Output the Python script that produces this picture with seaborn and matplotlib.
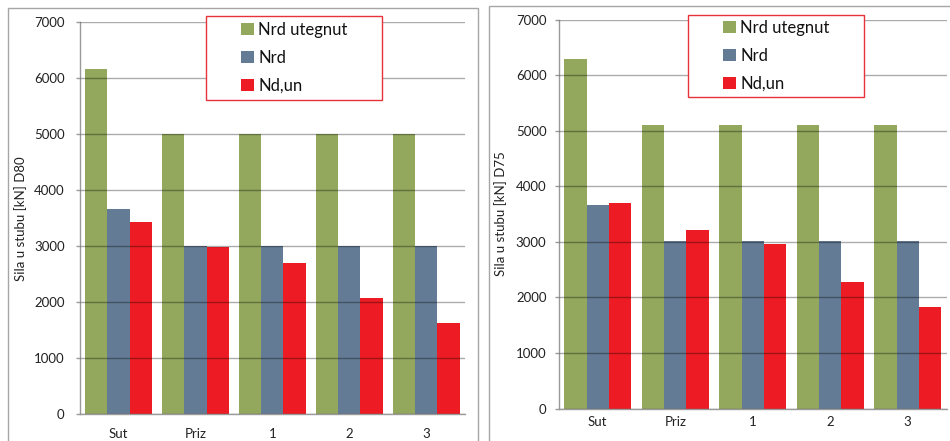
import matplotlib
matplotlib.use("Agg")
import matplotlib.pyplot as plt
import seaborn as sns
import pandas as pd
from matplotlib.patches import Rectangle, Patch

categories = ["Sut", "Priz", "1", "2", "3"]
series_names = ["Nrd utegnut", "Nrd", "Nd,un"]

d80_nrd_utegnut = [6160, 5000, 5000, 5000, 5000]
d80_nrd = [3670, 3000, 3000, 3000, 3000]
d80_nd_un = [3430, 2980, 2705, 2080, 1630]

d75_nrd_utegnut = [6290, 5100, 5100, 5100, 5100]
d75_nrd = [3670, 3010, 3010, 3010, 3010]
d75_nd_un = [3695, 3210, 2965, 2275, 1820]

ylabels = ["Sila u stubu [kN] D80", "Sila u stubu [kN] D75"]
yticks = [0, 1000, 2000, 3000, 4000, 5000, 6000, 7000]

colors = ["#93A75D", "#647B95", "#ED1C24"]


def make_df(a, b, c):
    rows = []
    for name, vals in zip(series_names, [a, b, c]):
        for cat, v in zip(categories, vals):
            rows.append({"cat": cat, "series": name, "value": v})
    return pd.DataFrame(rows)


sns.set_theme(style="white")
plt.rcParams["font.family"] = ["Lato", "DejaVu Sans"]

fig = plt.figure(figsize=(9.5, 4.41), dpi=100)
W, H = 950, 441


def px_ax(x0, x1, y0, y1):
    return fig.add_axes([x0 / W, 1 - y0 / H, (x1 - x0) / W, (y0 - y1) / H])


# panel frames
fig.add_artist(Rectangle((8 / W, -0.1), (478 - 8) / W, 1.1 - 8 / H,
                         transform=fig.transFigure, fill=False,
                         edgecolor="#a6a6a6", lw=1.0))
fig.add_artist(Rectangle((489 / W, -0.1), 0.5, 1.1 - 6 / H,
                         transform=fig.transFigure, fill=False,
                         edgecolor="#a6a6a6", lw=1.0))

specs = [
    dict(data=make_df(d80_nrd_utegnut, d80_nrd, d80_nd_un), box=(80, 464.5, 414.3, 22.3),
         ylab=ylabels[0], labx=27, leg=(206, 382, 16, 100), handle=(241, 22), xpad=10, ypad=8),
    dict(data=make_df(d75_nrd_utegnut, d75_nrd, d75_nd_un), box=(559, 946.5, 408.6, 19.6),
         ylab=ylabels[1], labx=507, leg=(688, 864, 15, 97), handle=(723, 20), xpad=5, ypad=6),
]

for s in specs:
    x0, x1, y0, y1 = s["box"]
    ax = px_ax(x0, x1, y0, y1)
    sns.barplot(data=s["data"], x="cat", y="value", hue="series", order=categories,
                hue_order=series_names, palette=colors, width=0.87, saturation=1,
                edgecolor="none", linewidth=0, ax=ax, legend=False)
    ax.set_xlim(-0.5, len(categories) - 0.5)
    ax.set_ylim(0, 7000)
    ax.set_yticks(yticks)
    ax.set_yticklabels([str(t) for t in yticks])
    ax.set_axisbelow(False)
    ax.yaxis.grid(True, color="#000000", alpha=0.33, lw=1.0)
    ax.xaxis.grid(False)
    for sp in ["top", "right"]:
        ax.spines[sp].set_visible(False)
    for sp in ["left", "bottom"]:
        ax.spines[sp].set_color("#9a9a9a")
        ax.spines[sp].set_linewidth(1.0)
    ax.tick_params(axis="y", length=3, width=1, color="#9a9a9a", pad=s["ypad"],
                   labelsize=9.5, labelcolor="#222222", left=True)
    ax.tick_params(axis="x", length=0, pad=s["xpad"], labelsize=9.5, labelcolor="#222222")
    ax.set_xlabel("")
    ax.set_ylabel(s["ylab"], fontsize=9.5, color="#222222")
    ax.yaxis.set_label_coords((s["labx"] - x0) / (x1 - x0), 0.5)

    # legend
    lx0, lx1, ly0, ly1 = s["leg"]
    fig.add_artist(Rectangle((lx0 / W, 1 - ly1 / H), (lx1 - lx0) / W, (ly1 - ly0) / H,
                             transform=fig.transFigure, facecolor="white",
                             edgecolor="#E8323C", lw=1.0, zorder=5))
    handles = [Patch(facecolor=c, edgecolor="none") for c in colors]
    hx, hy = s["handle"]
    leg = fig.legend(handles, series_names, loc="upper left",
                     bbox_to_anchor=(hx / W, 1 - hy / H), frameon=False,
                     borderpad=0, borderaxespad=0, handlelength=0.75, handleheight=0.75,
                     handletextpad=0.3, labelspacing=0.72, fontsize=12)
    leg.set_zorder(6)
    for t in leg.get_texts():
        t.set_color("#111111")

fig.savefig("out.png", dpi=100)
